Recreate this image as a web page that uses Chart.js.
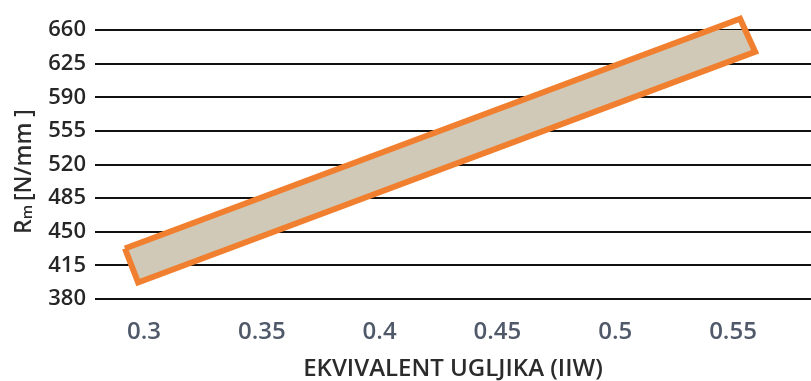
<!DOCTYPE html>
<html>
<head>
<meta charset="utf-8">
<script src="https://cdn.jsdelivr.net/npm/chart.js@4.4.0/dist/chart.umd.min.js"></script>
<style>
  html, body { margin: 0; padding: 0; background: #fff; }
  #wrap { width: 811px; height: 381px; }
</style>
</head>
<body>
<div id="wrap"><canvas class="chart" width="811" height="381"></canvas></div>
<script>
// corners of the strength band (carbon equivalent vs. Rm), walked round the outline
const bandX = [0.2919, 0.5530, 0.5594, 0.2975]
const bandY = [432.6, 671.7, 637.3, 397.2]

const xTicks = [0.3, 0.35, 0.4, 0.45, 0.5, 0.55]
const yTicks = [380, 415, 450, 485, 520, 555, 590, 625, 660]

const xTitle = 'EKVIVALENT UGLJIKA (IIW)'
const FONT = "'Open Sans', sans-serif"

// y axis title with a subscript m, Chart.js titles can't do that
const yTitlePlugin = {
    id: 'yTitle',
    afterDraw(chart) {
        const ctx = chart.ctx
        const area = chart.chartArea
        ctx.save()
        ctx.translate(24, (area.top + area.bottom) / 2 + 7)
        ctx.rotate(-Math.PI / 2)
        ctx.fillStyle = '#2b2b2b'
        ctx.textBaseline = 'middle'
        const parts = [
            {t: 'R', size: 23, dy: 0},
            {t: 'm ', size: 15, dy: 4},
            {t: '[N/mm ]', size: 23, dy: 0}
        ]
        let w = 0
        parts.forEach(p => {
            ctx.font = '600 ' + p.size + 'px ' + FONT
            w += ctx.measureText(p.t).width
        })
        let x = -w / 2
        parts.forEach(p => {
            ctx.font = '600 ' + p.size + 'px ' + FONT
            ctx.fillText(p.t, x, p.dy)
            x += ctx.measureText(p.t).width
        })
        ctx.restore()
    }
}

// closed outline: back to the first corner
function bandPoints() {
    const pts = bandX.map((x, i) => ({x: x, y: bandY[i]}))
    pts.push(pts[0])
    return pts
}

function bandChart(ctx) {
    new Chart(ctx, {
        type: 'scatter',
        data: {
            datasets: [{
                label: 'Rm',
                data: bandPoints(),
                showLine: true,
                fill: 'shape',
                backgroundColor: 'rgb(208, 201, 183)',
                borderColor: 'rgb(240, 128, 48)',
                borderWidth: 6,
                borderJoinStyle: 'miter',
                pointRadius: 0,
                pointHoverRadius: 0,
                tension: 0,
                clip: false
            }]
        },
        options: {
            responsive: false,
            animation: false,
            events: [],
            layout: {padding: {top: 30, right: 0, left: 0, bottom: 0}},
            plugins: {
                legend: {display: false},
                tooltip: {enabled: false}
            },
            scales: {
                x: {
                    type: 'linear',
                    min: 0.2792,
                    max: 0.5831,
                    afterBuildTicks: axis => { axis.ticks = xTicks.map(v => ({value: v})) },
                    afterFit: axis => { axis.height = 82 },
                    grid: {display: false, drawTicks: false},
                    border: {display: false},
                    ticks: {
                        padding: 19,
                        color: '#50596a',
                        font: {family: FONT, size: 24, weight: 600},
                        callback: v => String(v)
                    },
                    title: {
                        display: true,
                        text: xTitle,
                        color: '#2b2b2b',
                        font: {family: FONT, size: 24, weight: 600, lineHeight: 1},
                        padding: {top: 0, bottom: 0}
                    }
                },
                y: {
                    type: 'linear',
                    min: 380,
                    max: 660,
                    afterBuildTicks: axis => { axis.ticks = yTicks.map(v => ({value: v})) },
                    afterFit: axis => { axis.width = 95 },
                    grid: {color: '#111', lineWidth: 2, drawTicks: false},
                    border: {display: false},
                    ticks: {
                        padding: 9,
                        color: '#262626',
                        font: {family: FONT, size: 22, weight: 600}
                    }
                }
            }
        },
        plugins: [yTitlePlugin]
    })
}

function renderChart() {
    const c = document.getElementsByClassName('chart')[0]
    const ctx = c.getContext('2d')
    bandChart(ctx)
}

renderChart()
</script>
</body>
</html>
